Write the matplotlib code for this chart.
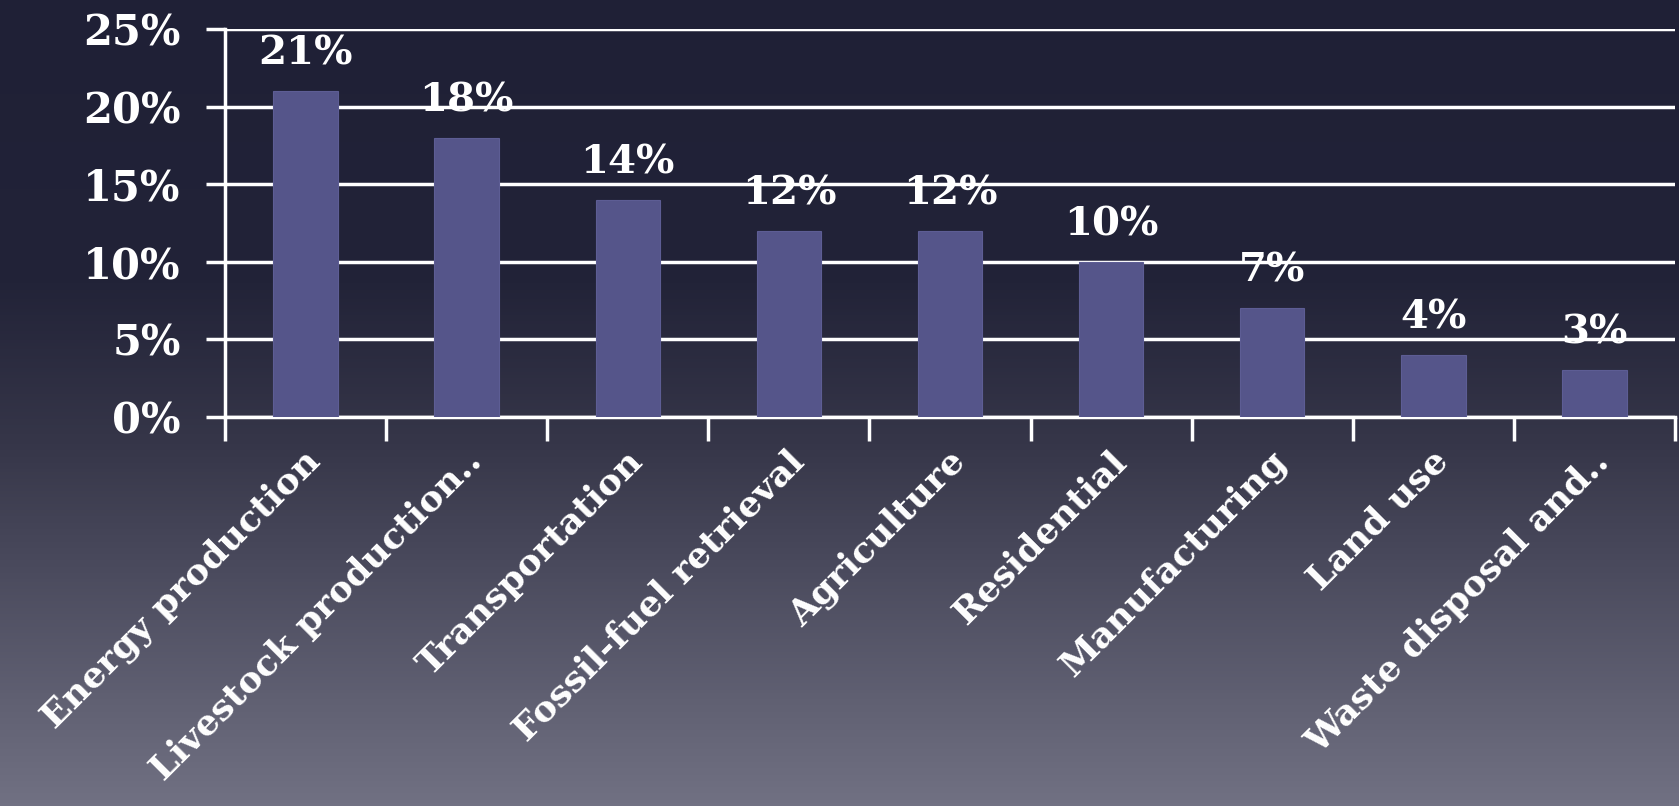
import numpy as np
import matplotlib.pyplot as plt
from matplotlib.colors import LinearSegmentedColormap
from matplotlib.ticker import FixedLocator

categories = ["Energy production", "Livestock production..", "Transportation",
              "Fossil-fuel retrieval", "Agriculture", "Residential",
              "Manufacturing", "Land use", "Waste disposal and.."]
shares = [21, 18, 14, 12, 12, 10, 7, 4, 3]
y_ticks = [0, 5, 10, 15, 20, 25]

font = "DejaVu Serif"
bar_color = "#55558a"

fig = plt.figure(figsize=(16.79, 8.06), dpi=100)

# background gradient, dark navy on top to grey-violet at the bottom
bg = fig.add_axes([0, 0, 1, 1], zorder=-10)
bg.axis("off")
cmap = LinearSegmentedColormap.from_list(
    "bg", [(0.0, "#1f2036"), (0.35, "#222338"), (0.55, "#363649"), (1.0, "#717183")])
grad = np.linspace(0, 1, 256).reshape(-1, 1)
bg.imshow(grad, aspect="auto", cmap=cmap, extent=[0, 1, 0, 1], origin="upper")

ax = fig.add_axes([225 / 1679, 1 - 417 / 806, 1450 / 1679, 388 / 806])
ax.set_facecolor("none")

x = np.arange(len(categories))
bars = ax.bar(x, shares, width=0.4, color=bar_color, edgecolor="#5d5d94",
              linewidth=0.8, zorder=3)

for xi, v in zip(x, shares):
    ax.text(xi, v + 1.2, f"{v}%", ha="center", va="bottom", color="white",
            fontsize=29, fontweight="bold", family=font, zorder=4)

ax.set_xlim(-0.5, len(categories) - 0.5)
ax.set_ylim(0, 25)
ax.set_yticks(y_ticks)
ax.set_yticklabels([f"{t}%" for t in y_ticks], family=font, fontweight="bold",
                   fontsize=30, color="white")
ax.grid(axis="y", color="white", linewidth=2.5, zorder=1)
ax.set_axisbelow(True)

ax.set_xticks(x + 0.06)
ax.set_xticklabels(categories, rotation=45, ha="right", va="center",
                   rotation_mode="anchor", family=font, fontweight="bold",
                   fontsize=26, color="white")
ax.xaxis.set_minor_locator(FixedLocator(np.arange(-0.5, len(categories), 1.0)))
ax.tick_params(axis="x", which="major", length=0, pad=28)
ax.tick_params(axis="x", which="minor", length=17, width=2.5, color="white")
ax.tick_params(axis="y", length=14, width=2.5, color="white", pad=18)

for side in ["top", "right"]:
    ax.spines[side].set_visible(False)
for side in ["left", "bottom"]:
    ax.spines[side].set_color("white")
    ax.spines[side].set_linewidth(2.5)

fig.savefig("out.png", dpi=100)
